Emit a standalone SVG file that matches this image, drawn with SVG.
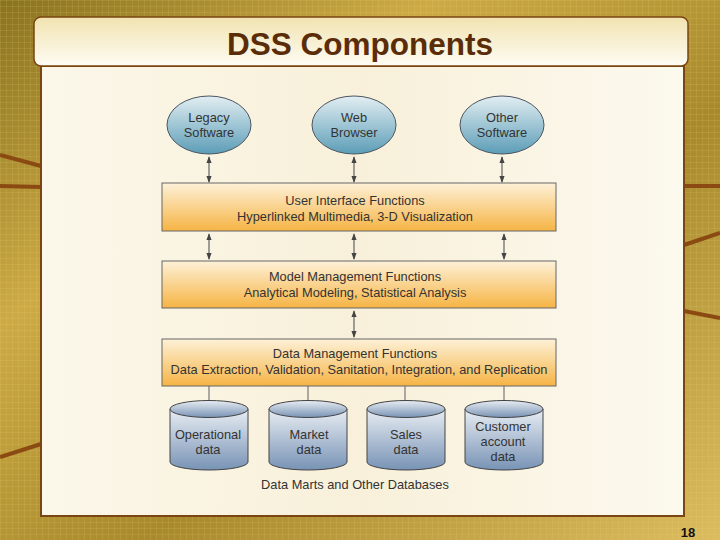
<svg xmlns="http://www.w3.org/2000/svg" width="720" height="540" viewBox="0 0 720 540">
<defs>
<linearGradient id="bg" x1="0" y1="0" x2="1" y2="1">
<stop offset="0" stop-color="#8a7320"/>
<stop offset="0.3" stop-color="#cdaa44"/>
<stop offset="0.6" stop-color="#a88a2c"/>
<stop offset="1" stop-color="#dcbc5e"/>
</linearGradient>
<pattern id="grid" width="6" height="6" patternUnits="userSpaceOnUse">
<path d="M6 0H0V6" fill="none" stroke="#f3e08a" stroke-width="0.8" stroke-opacity="0.3"/>
</pattern>
<linearGradient id="titleG" x1="0" y1="0" x2="0" y2="1">
<stop offset="0" stop-color="#f1e3b0"/>
<stop offset="1" stop-color="#fefcf4"/>
</linearGradient>
<linearGradient id="panelG" x1="0" y1="0" x2="1" y2="0">
<stop offset="0" stop-color="#fbf7e9"/>
<stop offset="0.5" stop-color="#f8f0da"/>
<stop offset="1" stop-color="#fcf9ee"/>
</linearGradient>
<linearGradient id="ellG" x1="0" y1="0" x2="0" y2="1">
<stop offset="0" stop-color="#e2eef2"/>
<stop offset="1" stop-color="#5c9db7"/>
</linearGradient>
<linearGradient id="barG" x1="0" y1="0" x2="0" y2="1">
<stop offset="0" stop-color="#fdf1d8"/>
<stop offset="1" stop-color="#f6b444"/>
</linearGradient>
<linearGradient id="cylG" x1="0" y1="0" x2="0" y2="1">
<stop offset="0" stop-color="#e8edf3"/>
<stop offset="1" stop-color="#7893b5"/>
</linearGradient>
<marker id="ah" viewBox="0 0 8 8" refX="7" refY="4" markerWidth="7" markerHeight="7" orient="auto-start-reverse" markerUnits="userSpaceOnUse">
<path d="M0 1L8 4L0 7z" fill="#444"/>
</marker>
<style>
.t{font-family:"Liberation Sans",Arial,sans-serif;font-size:12.8px;fill:#333;text-anchor:middle}
.ell{fill:url(#ellG);stroke:#4a5560;stroke-width:1}
.bar{fill:url(#barG);stroke:#666;stroke-width:1}
.cyl{fill:url(#cylG);stroke:#444;stroke-width:1}
.arr{stroke:#777;stroke-width:1.4;fill:none;marker-start:url(#ah);marker-end:url(#ah)}
.ln{stroke:#777;stroke-width:1.2;fill:none}
.br{stroke:#8a4a12;stroke-width:4;fill:none}
</style>
</defs>
<g id="background">
<rect width="720" height="540" fill="url(#bg)"/>
<rect width="720" height="540" fill="url(#grid)"/>
<path class="br" d="M0 155L41 166"/>
<path class="br" d="M0 186L41 187"/>
<path class="br" d="M0 457L41 444"/>
<path class="br" d="M684 186L720 186"/>
<path class="br" d="M684 245L720 233"/>
<path class="br" d="M684 311L720 318"/>
</g>
<g id="panel">
<rect x="41" y="66" width="643" height="450" fill="url(#panelG)" stroke="#7a4512" stroke-width="2"/>
</g>
<g id="title">
<rect x="34" y="17" width="654" height="49" rx="7" fill="url(#titleG)" stroke="#7a4512" stroke-width="1.5"/>
<text x="360" y="55" style="font-family:'Liberation Sans',Arial,sans-serif;font-size:31.5px;font-weight:bold;fill:#5a2d08;text-anchor:middle">DSS Components</text>
</g>
<g id="connectors">
<line class="arr" x1="209" y1="157" x2="209" y2="182"/>
<line class="arr" x1="354" y1="157" x2="354" y2="182"/>
<line class="arr" x1="502" y1="157" x2="502" y2="182"/>
<line class="arr" x1="209" y1="234" x2="209" y2="259"/>
<line class="arr" x1="354" y1="234" x2="354" y2="259"/>
<line class="arr" x1="504" y1="234" x2="504" y2="259"/>
<line class="arr" x1="354" y1="311" x2="354" y2="337"/>
<line class="ln" x1="209" y1="386" x2="209" y2="401"/>
<line class="ln" x1="308" y1="386" x2="308" y2="401"/>
<line class="ln" x1="405" y1="386" x2="405" y2="401"/>
<line class="ln" x1="504" y1="386" x2="504" y2="401"/>
</g>
<g id="legacy">
<ellipse class="ell" cx="209" cy="125" rx="42" ry="29"/>
<text class="t" x="209" y="122">Legacy</text>
<text class="t" x="209" y="137">Software</text>
</g>
<g id="web">
<ellipse class="ell" cx="354" cy="125" rx="42" ry="29"/>
<text class="t" x="354" y="122">Web</text>
<text class="t" x="354" y="137">Browser</text>
</g>
<g id="other">
<ellipse class="ell" cx="502" cy="125" rx="42" ry="29"/>
<text class="t" x="502" y="122">Other</text>
<text class="t" x="502" y="137">Software</text>
</g>
<g id="ui">
<rect class="bar" x="162" y="183" width="394" height="48"/>
<text class="t" x="355" y="205">User Interface Functions</text>
<text class="t" x="355" y="221">Hyperlinked Multimedia, 3-D Visualization</text>
</g>
<g id="model">
<rect class="bar" x="162" y="261" width="394" height="47"/>
<text class="t" x="355" y="281">Model Management Functions</text>
<text class="t" x="355" y="297">Analytical Modeling, Statistical Analysis</text>
</g>
<g id="data">
<rect class="bar" x="162" y="339" width="394" height="47"/>
<text class="t" x="355" y="358">Data Management Functions</text>
<text class="t" x="359" y="374">Data Extraction, Validation, Sanitation, Integration, and Replication</text>
</g>
<g id="operational">
<path class="cyl" d="M170 409V462A39 8 0 0 0 248 462V409"/>
<ellipse class="cyl" cx="209" cy="409" rx="39" ry="8.5"/>
<text class="t" x="208" y="439">Operational</text>
<text class="t" x="208" y="454">data</text>
</g>
<g id="market">
<path class="cyl" d="M269 409V462A39 8 0 0 0 347 462V409"/>
<ellipse class="cyl" cx="308" cy="409" rx="39" ry="8.5"/>
<text class="t" x="309" y="439">Market</text>
<text class="t" x="309" y="454">data</text>
</g>
<g id="sales">
<path class="cyl" d="M367 409V462A39 8 0 0 0 445 462V409"/>
<ellipse class="cyl" cx="406" cy="409" rx="39" ry="8.5"/>
<text class="t" x="406" y="439">Sales</text>
<text class="t" x="406" y="454">data</text>
</g>
<g id="customer">
<path class="cyl" d="M465 409V462A39 8 0 0 0 543 462V409"/>
<ellipse class="cyl" cx="504" cy="409" rx="39" ry="8.5"/>
<text class="t" x="503" y="431">Customer</text>
<text class="t" x="503" y="446">account</text>
<text class="t" x="503" y="461">data</text>
</g>
<g id="caption">
<text class="t" x="355" y="489">Data Marts and Other Databases</text>
</g>
<g id="pagenum">
<text x="688" y="537" style="font-family:'Liberation Sans',Arial,sans-serif;font-size:13px;font-weight:bold;fill:#111;text-anchor:middle">18</text>
</g>
</svg>
